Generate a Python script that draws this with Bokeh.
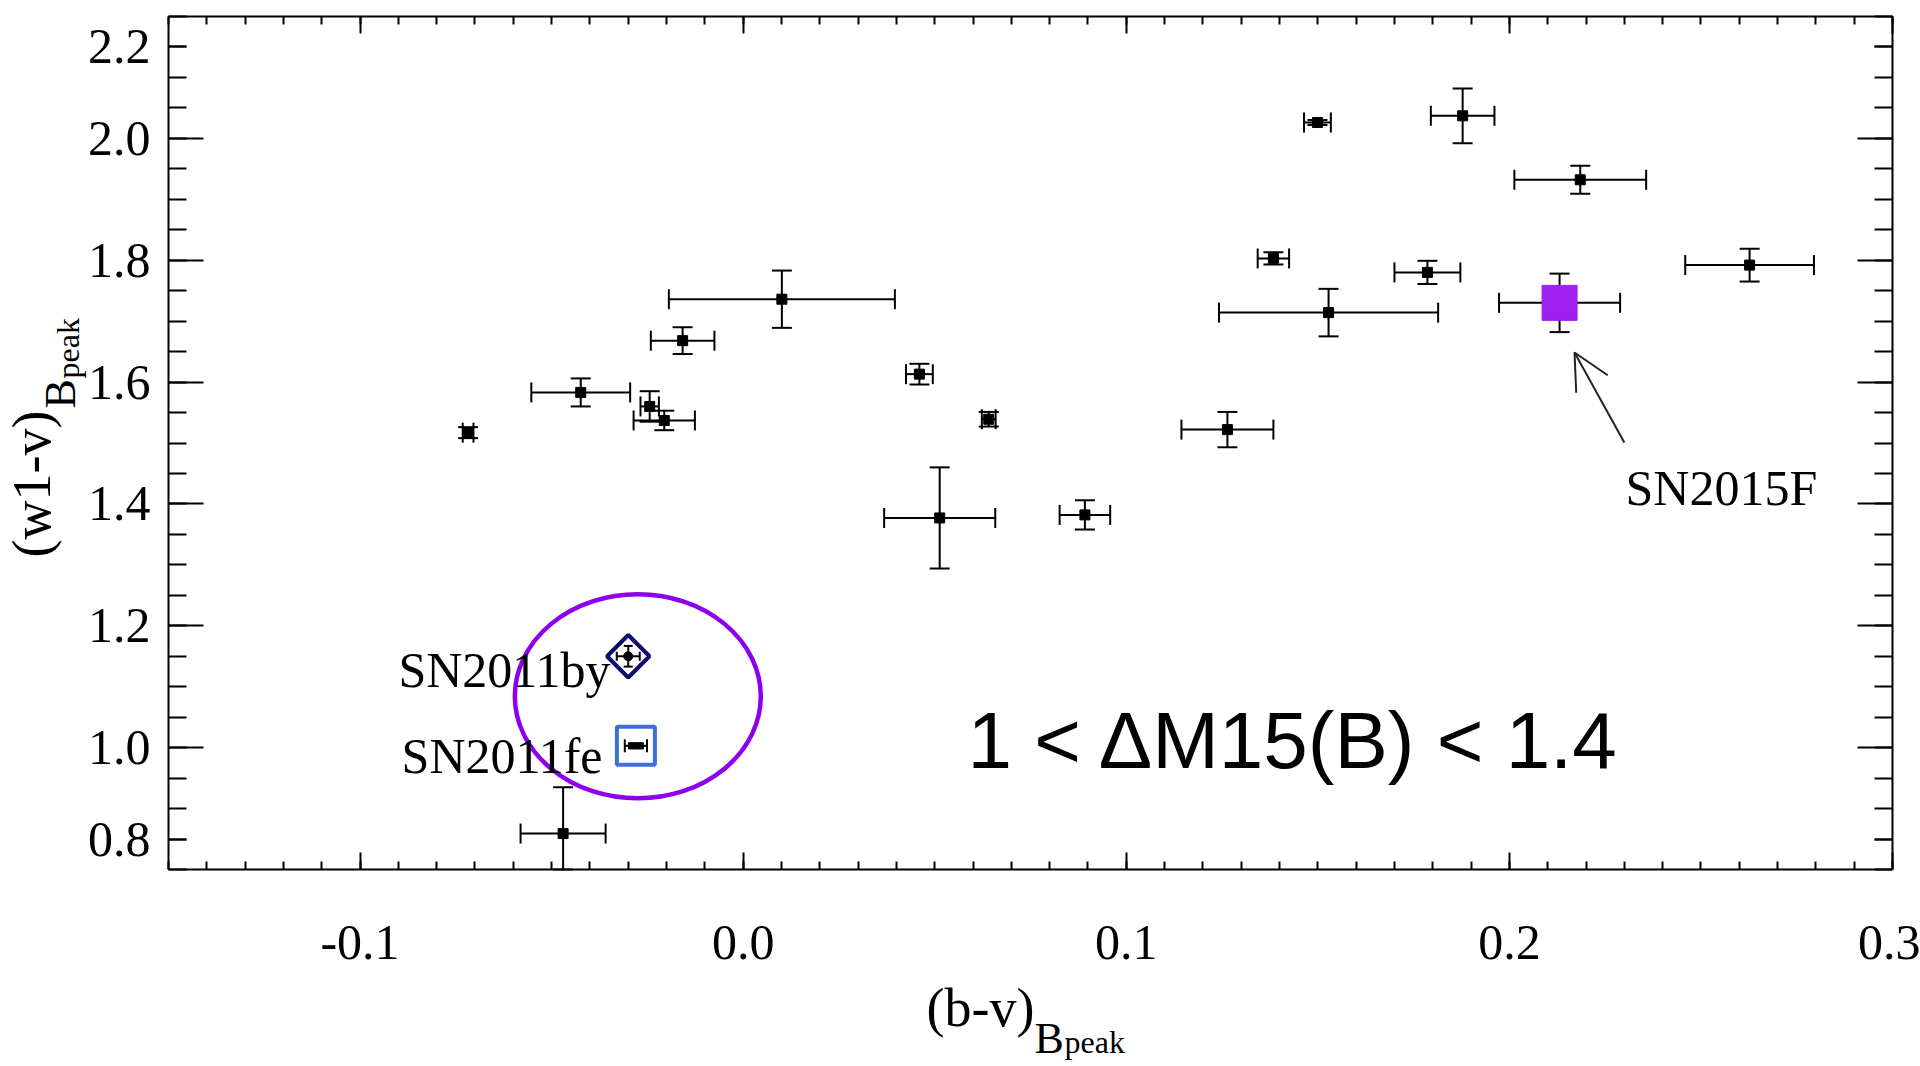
import math
from bokeh.plotting import figure
from bokeh.models import (ColumnDataSource, Whisker, TeeHead, Label, Arrow, OpenHead,
                          FixedTicker, LinearAxis, Range1d, NumeralTickFormatter,
                          CustomJSTickFormatter)
from bokeh.embed import file_html
from bokeh.resources import INLINE

# ---- data ----
bv = [-0.0718, -0.0424, -0.0158, 0.0101, -0.0244, -0.0206, 0.0460, 0.0641, 0.0513,
      0.0892, 0.1264, 0.1384, 0.1528, 0.1499, 0.1878, 0.2185, 0.1786, 0.2627, -0.0470]
bv_err = [0.0014, 0.0129, 0.0083, 0.0295, 0.0024, 0.0080, 0.0035, 0.0018, 0.0145,
          0.0066, 0.0120, 0.0041, 0.0286, 0.0035, 0.0083, 0.0172, 0.0086, 0.0168, 0.0111]
w1v = [1.517, 1.583, 1.668, 1.736, 1.560, 1.537, 1.613, 1.539, 1.377,
       1.382, 1.522, 1.803, 1.714, 2.026, 2.037, 1.932, 1.780, 1.792, 0.859]
w1v_err = [0.009, 0.023, 0.022, 0.047, 0.025, 0.016, 0.017, 0.012, 0.083,
           0.024, 0.029, 0.010, 0.039, 0.004, 0.045, 0.023, 0.019, 0.027, 0.076]

sn15f_bv, sn15f_bv_err = [0.2131], [0.0158]
sn15f_w1v, sn15f_w1v_err = [1.730], [0.048]

sn11by_bv, sn11by_bv_err = [-0.0300], [0.0030]
sn11by_w1v, sn11by_w1v_err = [1.150], [0.017]

sn11fe_bv, sn11fe_bv_err = [-0.0280], [0.0029]
sn11fe_w1v, sn11fe_w1v_err = [1.003], [0.004]

x_major = [-0.1, 0.0, 0.1, 0.2, 0.3]
y_major = [1.0, 1.2, 1.4, 1.6, 1.8, 2.0]
y_extra_ticks = [0.85, 2.15]
y_extra_labels = {0.85: "0.8", 2.15: "2.2"}

X0, X1 = -0.15, 0.3      # axis box limits
Y0, Y1 = 0.8, 2.2

SERIF = "Liberation Serif"

# ---- layout: the frame covers the whole canvas, axes sit at the box edges ----
W, H = 1920, 1066
BL, BR, BT, BB = 168, 1892, 16, 869          # axis box in pixels
sx = (BR - BL) / (X1 - X0)
sy = (BB - BT) / (Y1 - Y0)
x_range = Range1d(X0 - BL / sx, X1 + (W - BR) / sx)
y_range = Range1d(Y0 - (H - BB) / sy, Y1 + BT / sy)


def px2x(px):
    return X0 + (px - BL) / sx


def px2y(py):
    return Y0 + (BB - py) / sy


def src(x, xe, y, ye):
    # error bars are cut at the axis box, as in the reference
    return ColumnDataSource(dict(
        x=x, y=y,
        xl=[max(a - b, X0) for a, b in zip(x, xe)], xu=[min(a + b, X1) for a, b in zip(x, xe)],
        yl=[max(a - b, Y0) for a, b in zip(y, ye)], yu=[min(a + b, Y1) for a, b in zip(y, ye)]))


def errbars(p, s, cap=20, lw=2, level="underlay"):
    for dim, base, lo, up in (("width", "y", "xl", "xu"), ("height", "x", "yl", "yu")):
        w = Whisker(source=s, base=base, lower=lo, upper=up, dimension=dim,
                    line_color="black", line_width=lw, level=level,
                    lower_head=TeeHead(size=cap, line_width=lw, line_color="black"),
                    upper_head=TeeHead(size=cap, line_width=lw, line_color="black"))
        p.add_layout(w)


p = figure(width=W, height=H, x_range=x_range, y_range=y_range,
           output_backend="svg", toolbar_location=None,
           min_border_left=0, min_border_right=0, min_border_top=0, min_border_bottom=0,
           background_fill_color="white", border_fill_color="white")
p.grid.visible = False
p.outline_line_color = None

x_minor = [round(-0.15 + 0.01 * i, 2) for i in range(46)]
y_minor = [round(0.8 + 0.05 * i, 2) for i in range(29)]


def style_axis(ax, majors, minors, mj, mn):
    ax.ticker = FixedTicker(ticks=majors, minor_ticks=minors)
    ax.major_tick_in = mj
    ax.major_tick_out = 0
    ax.minor_tick_in = mn
    ax.minor_tick_out = 0
    ax.axis_line_width = 2
    ax.axis_line_color = "black"
    ax.major_tick_line_width = 2
    ax.minor_tick_line_width = 2
    ax.major_label_text_font = SERIF
    ax.major_label_text_font_size = "50px"
    ax.major_label_text_color = "black"


xa = p.xaxis[0]
ya = p.yaxis[0]
style_axis(xa, x_major, x_minor, 17, 8)
style_axis(ya, y_major, y_minor, 35, 18)
xa.formatter = NumeralTickFormatter(format="0.0")
ya.formatter = NumeralTickFormatter(format="0.0")
xa.fixed_location = Y0
xa.bounds = (X0, X1)
ya.fixed_location = X0
ya.bounds = (Y0, Y1)
xa.major_label_standoff = 56
ya.major_label_standoff = 18

# second left axis: the "0.8" and "2.2" labels sitting at minor-length ticks
ya2 = LinearAxis()
style_axis(ya2, y_extra_ticks, [], 18, 0)
ya2.major_label_overrides = y_extra_labels
ya2.fixed_location = X0
ya2.bounds = (Y0, Y1)
ya2.axis_line_color = None
ya2.major_label_standoff = 18
p.add_layout(ya2, "left")

# mirrored axes (ticks only)
for loc, majors, minors, mj, mn, fl, bd in (("above", x_major, x_minor, 17, 8, Y1, (X0, X1)),
                                            ("right", y_major, y_minor, 35, 18, X1, (Y0, Y1))):
    ax = LinearAxis()
    style_axis(ax, majors, minors, mj, mn)
    ax.formatter = CustomJSTickFormatter(code="return ''")
    ax.major_label_text_font_size = "0px"
    ax.major_label_standoff = 0
    ax.fixed_location = fl
    ax.bounds = bd
    p.add_layout(ax, loc)
# the extra short ticks at 0.85 / 2.15 on the right
ra2 = LinearAxis()
style_axis(ra2, y_extra_ticks, [], 18, 0)
ra2.formatter = CustomJSTickFormatter(code="return ''")
ra2.major_label_text_font_size = "0px"
ra2.major_label_standoff = 0
ra2.fixed_location = X1
ra2.bounds = (Y0, Y1)
ra2.axis_line_color = None
p.add_layout(ra2, "right")

# ---- data points ----
s_main = src(bv, bv_err, w1v, w1v_err)
errbars(p, s_main)
p.scatter("x", "y", source=s_main, marker="square", size=10, color="black")

s_15f = src(sn15f_bv, sn15f_bv_err, sn15f_w1v, sn15f_w1v_err)
errbars(p, s_15f)
p.scatter("x", "y", source=s_15f, marker="square", size=35, fill_color="#A020F0",
          line_color="#A020F0")

s_by = src(sn11by_bv, sn11by_bv_err, sn11by_w1v, sn11by_w1v_err)
p.scatter("x", "y", source=s_by, marker="square", angle=math.pi / 4, size=30,
          fill_color="white", line_color="#0c0c6e", line_width=4)
errbars(p, s_by, cap=9, lw=2, level="overlay")
p.scatter("x", "y", source=s_by, marker="circle", size=9, color="black")

s_fe = src(sn11fe_bv, sn11fe_bv_err, sn11fe_w1v, sn11fe_w1v_err)
p.scatter("x", "y", source=s_fe, marker="square", size=38,
          fill_color="white", line_color="#3d6fdb", line_width=4)
errbars(p, s_fe, cap=13, lw=2, level="overlay")
p.scatter("x", "y", source=s_fe, marker="dash", size=16, line_width=7, line_color="black")

# purple ellipse around SN2011by / SN2011fe
p.ellipse(x=[-0.0275], y=[1.0843], width=[0.0642], height=[0.335],
          fill_color=None, line_color="#8C00EE", line_width=4.5)

# arrow to SN2015F
p.add_layout(Arrow(end=OpenHead(size=36, line_width=2, line_color="#222222"),
                   x_start=0.2300, y_start=1.501, x_end=0.2170, y_end=1.6485,
                   line_width=2, line_color="#222222"))

# ---- texts (pixel anchors of the alphabetic baseline, compensated) ----
SHIFT = 0.35


def lab(X, Y, text, size, align="left", font=SERIF, rotated=False):
    if rotated:
        X = X - SHIFT * size
    else:
        Y = Y - SHIFT * size
    p.add_layout(Label(x=px2x(X), y=px2y(Y), text=text, text_align=align,
                       text_baseline="alphabetic", text_font=font,
                       text_font_size=f"{size}px", text_color="black",
                       angle=(math.pi / 2 if rotated else 0.0)))


lab(610, 687, "SN2011by", 50, align="right")
lab(602, 773, "SN2011fe", 50, align="right")
lab(1625, 505, "SN2015F", 50)
lab(967, 768, "1 < \u0394M15(B) < 1.4", 80, font="Liberation Sans")

# axis titles
lab(926, 1026, "(b-v)", 54)
lab(1034, 1053, "B", 44)
lab(1064, 1053, "peak", 32)
lab(50, 557, "(w1-v)", 54, rotated=True)
lab(75, 408, "B", 44, rotated=True)
lab(79, 378, "peak", 32, rotated=True)

open("out.html", "w").write(file_html(p, INLINE))
